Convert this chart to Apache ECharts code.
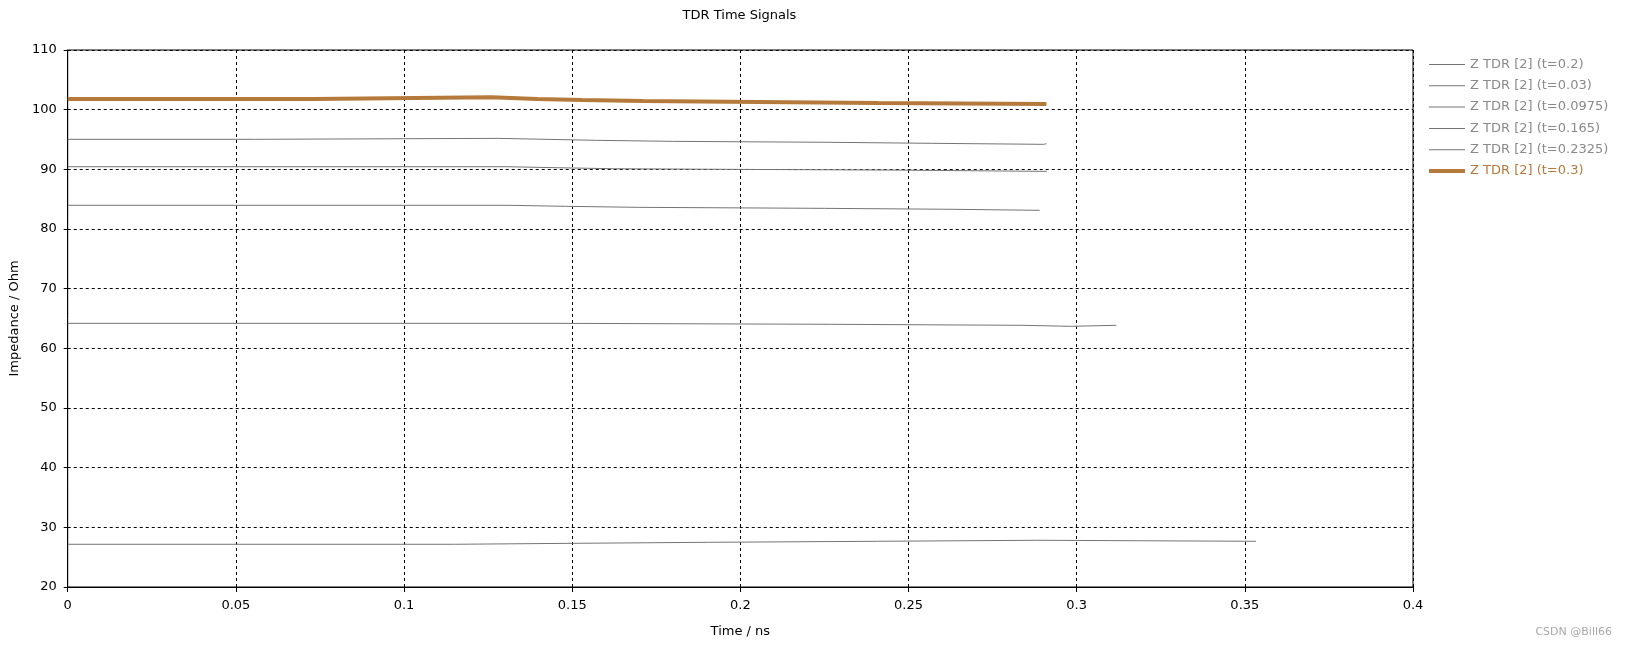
<!DOCTYPE html>
<html>
<head>
<meta charset="utf-8">
<title>TDR Time Signals</title>
<script src="https://cdn.jsdelivr.net/npm/echarts@6/dist/echarts.min.js"></script>
<style>
  html, body { margin: 0; padding: 0; background: #fff; }
  #chart { width: 1626px; height: 648px; }
</style>
</head>
<body>
<div id="chart"></div>
<script>
// step signals: [time (ns), impedance (Ohm)] at each step start, last point = end of trace
const seriesNames = [
  'Z TDR [2] (t=0.2)',
  'Z TDR [2] (t=0.03)',
  'Z TDR [2] (t=0.0975)',
  'Z TDR [2] (t=0.165)',
  'Z TDR [2] (t=0.2325)',
  'Z TDR [2] (t=0.3)'
];

const tdrT0200 = [
  [0, 90.44], [0.1304, 90.27], [0.1455, 90.10], [0.1626, 90.00],
  [0.1957, 89.88], [0.245, 89.66], [0.2911, 89.66]
];
const tdrT0030 = [
  [0, 27.16], [0.115, 27.32], [0.1501, 27.49], [0.1905, 27.66],
  [0.2408, 27.83], [0.2884, 27.66], [0.3533, 27.66]
];
const tdrT0975 = [
  [0, 64.19], [0.1458, 64.03], [0.227, 63.86], [0.2837, 63.69],
  [0.2982, 63.86], [0.3118, 63.86]
];
const tdrT1650 = [
  [0, 83.97], [0.1312, 83.80], [0.148, 83.63], [0.1697, 83.46],
  [0.225, 83.30], [0.2632, 83.13], [0.289, 83.13]
];
const tdrT2325 = [
  [0, 95.03], [0.0555, 95.19], [0.128, 95.03], [0.1422, 94.86],
  [0.1572, 94.69], [0.1801, 94.53], [0.2264, 94.36], [0.2569, 94.19],
  [0.2902, 94.30], [0.291, 94.30]
];
const tdrT3000 = [
  [0, 101.78], [0.0728, 102.07], [0.126, 101.78], [0.1396, 101.62],
  [0.153, 101.45], [0.171, 101.28], [0.205, 101.11], [0.241, 100.95],
  [0.291, 100.95]
];

const allData = [tdrT0200, tdrT0030, tdrT0975, tdrT1650, tdrT2325, tdrT3000];

const FONT = 'DejaVu Sans';
const GRAY = '#747474';
const ORANGE = '#b5793c';

// hold each value until the next step time (staircase)
function toSteps(pts) {
  const out = [];
  pts.forEach((p, i) => {
    if (i > 0) out.push([p[0], pts[i - 1][1]]);
    out.push(p);
  });
  return out;
}

const chart = echarts.init(document.getElementById('chart'));

const series = allData.map((data, i) => {
  const hot = i === allData.length - 1;
  return {
    name: seriesNames[i],
    type: 'line',
    symbol: 'none',
    z: hot ? 3 : 2,
    lineStyle: {
      color: hot ? ORANGE : GRAY,
      width: hot ? 4 : 1
    },
    itemStyle: { color: hot ? ORANGE : GRAY },
    data: toSteps(data)
  };
});

chart.setOption({
  animation: false,
  textStyle: { fontFamily: FONT },
  title: {
    text: 'TDR Time Signals',
    left: 739.5,
    top: 9,
    padding: 0,
    textAlign: 'center',
    textStyle: { fontFamily: FONT, fontSize: 13, fontWeight: 'normal', color: '#000' }
  },
  legend: {
    orient: 'vertical',
    left: 1429,
    top: 58,
    padding: 0,
    itemWidth: 36,
    itemHeight: 14,
    itemGap: 8.3,
    textStyle: { fontFamily: FONT, fontSize: 13 },
    data: seriesNames.map((n, i) => {
      const hot = i === seriesNames.length - 1;
      return {
        name: n,
        icon: hot ? 'path://M0,0h36v4h-36z' : 'path://M0,0h36v1h-36z',
        textStyle: { color: hot ? ORANGE : '#8a8a8a' }
      };
    })
  },
  grid: {
    left: 66,
    right: 213,
    top: 50,
    bottom: 61,
    show: true,
    borderColor: '#000',
    borderWidth: 1
  },
  xAxis: {
    type: 'value',
    min: 0,
    max: 0.4,
    interval: 0.05,
    name: 'Time / ns',
    nameLocation: 'middle',
    nameGap: 38,
    nameTextStyle: { fontFamily: FONT, fontSize: 13, color: '#000' },
    axisLine: { show: true, lineStyle: { color: '#000', width: 1 } },
    axisTick: { show: true, inside: false, length: 5, lineStyle: { color: '#000' } },
    axisLabel: { fontFamily: FONT, fontSize: 13, color: '#000', margin: 12 },
    splitLine: { show: true, lineStyle: { color: '#000', type: [3, 3], width: 1 } }
  },
  yAxis: {
    type: 'value',
    min: 20,
    max: 110,
    interval: 10,
    name: 'Impedance / Ohm',
    nameLocation: 'middle',
    nameGap: 46,
    nameTextStyle: { fontFamily: FONT, fontSize: 13, color: '#000' },
    axisLine: { show: true, lineStyle: { color: '#000', width: 1 } },
    axisTick: { show: true, inside: false, length: 4, lineStyle: { color: '#000' } },
    axisLabel: { fontFamily: FONT, fontSize: 13, color: '#000', margin: 11 },
    splitLine: { show: true, lineStyle: { color: '#000', type: [3, 3], width: 1 } }
  },
  graphic: [
    {
      type: 'text',
      right: 14,
      top: 627,
      style: { text: 'CSDN @Bill66', font: '11px ' + FONT, fill: '#a8a8a8' }
    }
  ],
  series
});
</script>
</body>
</html>
